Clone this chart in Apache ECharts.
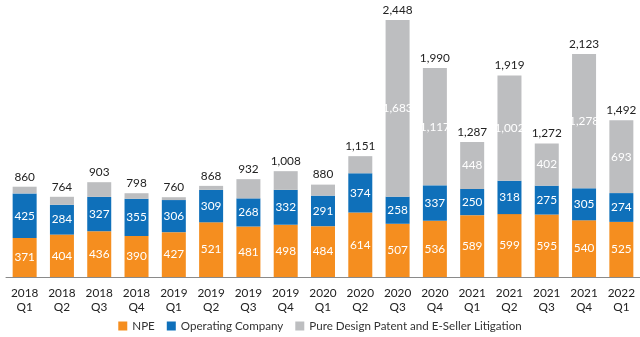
<!DOCTYPE html>
<html><head><meta charset="utf-8">
<script src="https://cdn.jsdelivr.net/npm/echarts@6/dist/echarts.min.js"></script>
<style>html,body{margin:0;padding:0;background:#fff}#c{width:640px;height:337px}</style>
</head><body><div id="c"></div>
<script>
var categories = ["2018\nQ1","2018\nQ2","2018\nQ3","2018\nQ4","2019\nQ1","2019\nQ2","2019\nQ3","2019\nQ4","2020\nQ1","2020\nQ2","2020\nQ3","2020\nQ4","2021\nQ1","2021\nQ2","2021\nQ3","2021\nQ4","2022\nQ1"];
var npe = [371,404,436,390,427,521,481,498,484,614,507,536,589,599,595,540,525];
var operating = [425,284,327,355,306,309,268,332,291,374,258,337,250,318,275,305,274];
var pureDesign = [64,76,140,53,27,38,183,178,105,163,1683,1117,448,1002,402,1278,693];
var totals = [860,764,903,798,760,868,932,1008,880,1151,2448,1990,1287,1919,1272,2123,1492];

var font = 'Lato';
function fmt(v){return v.toLocaleString('en-US');}
var chart = echarts.init(document.getElementById('c'));
chart.setOption({
  animation:false,
  textStyle:{fontFamily:font},
  grid:{left:6,right:0,top:20,bottom:60},
  legend:{bottom:0,left:'center',itemWidth:9,itemHeight:9,itemGap:12,icon:'rect',
    textStyle:{fontFamily:font,fontSize:11.6,color:'#333'},
    data:['NPE','Operating Company','Pure Design Patent and E-Seller Litigation']},
  xAxis:{type:'category',data:categories,
    axisLine:{lineStyle:{color:'#8a8a8a'}},axisTick:{show:false},
    axisLabel:{color:'#222',fontSize:11.8,lineHeight:14,margin:9,fontFamily:font}},
  yAxis:{type:'value',min:0,max:2448,show:false,splitLine:{show:false}},
  series:[
    {name:'NPE',type:'bar',stack:'s',data:npe,barWidth:24,itemStyle:{color:'#F58E1F'},
     label:{show:true,position:'inside',color:'#fff',fontSize:11.8,fontFamily:font,formatter:function(p){return fmt(p.value);}}},
    {name:'Operating Company',type:'bar',stack:'s',data:operating,itemStyle:{color:'#0F70BA'},
     label:{show:true,position:'inside',color:'#fff',fontSize:11.8,fontFamily:font,formatter:function(p){return fmt(p.value);}}},
    {name:'Pure Design Patent and E-Seller Litigation',type:'bar',stack:'s',data:pureDesign,itemStyle:{color:'#BDBEC0'},
     label:{show:true,position:'inside',color:'#fff',fontSize:11.8,fontFamily:font,formatter:function(p){return p.value>300?fmt(p.value):'';}}},
    {name:'total',type:'bar',stack:'s',data:totals.map(function(){return 0;}),itemStyle:{color:'transparent'},
     label:{show:true,position:'top',distance:4,color:'#222',fontSize:11.8,fontFamily:font,formatter:function(p){return fmt(totals[p.dataIndex]);}}}
  ]
});
</script></body></html>
